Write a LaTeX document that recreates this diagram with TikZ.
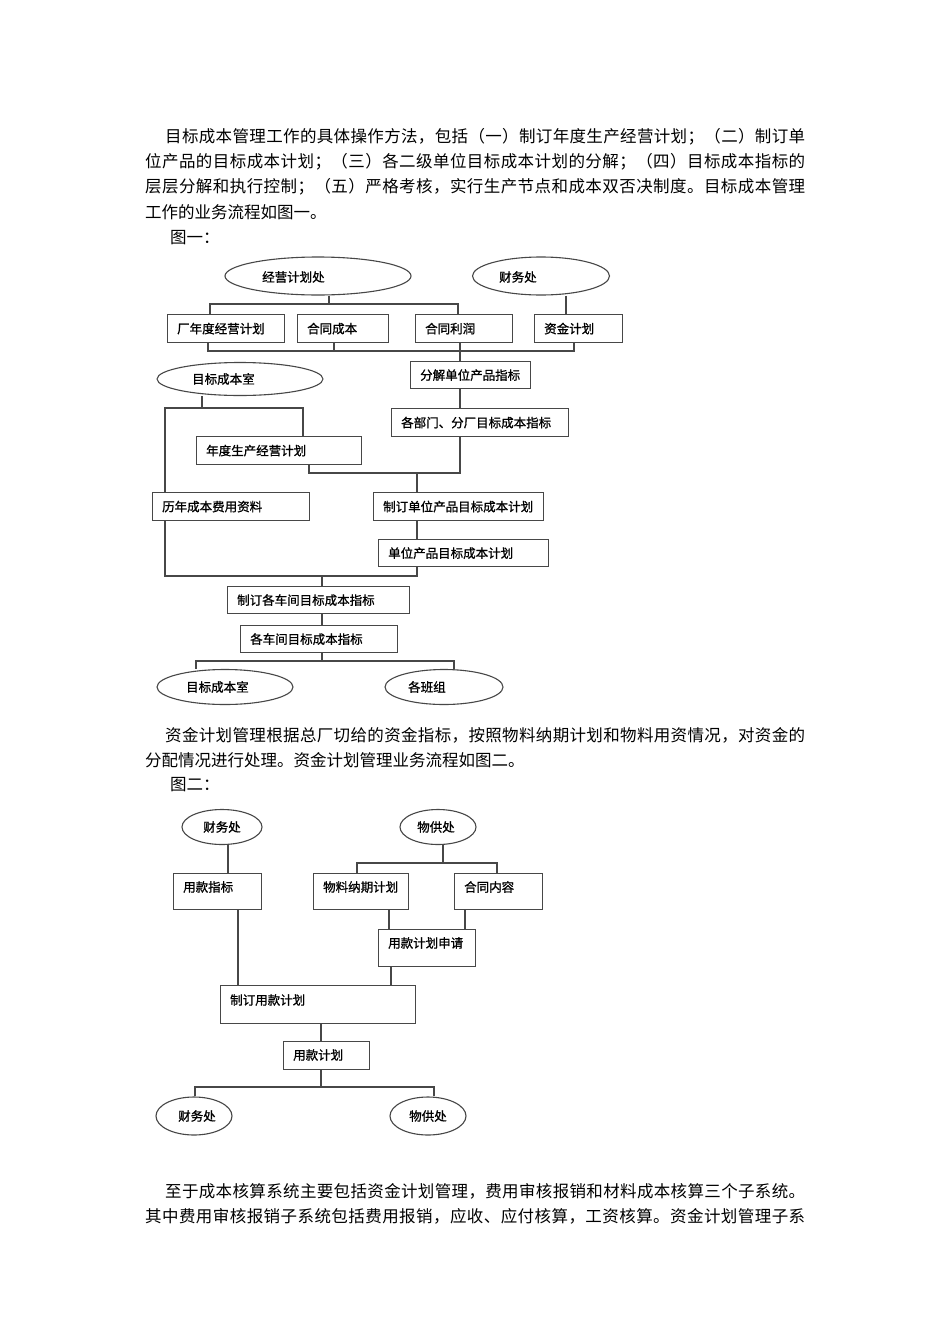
\documentclass[tikz,border=0pt]{standalone}
\usepackage{fontspec}
\setmainfont{Noto Sans CJK SC}
\newfontfamily\dgfont[FakeBold=1]{Noto Sans CJK SC}
\usetikzlibrary{shapes.geometric}
\def\jline#1{\jfirst#1\relax}
\def\jfirst#1{#1\jrest}
\def\jrest#1{\ifx#1\relax\else\hfil#1\expandafter\jrest\fi}
\newcommand\bxc[6]{%
  \node[bx, anchor=north west, minimum width={#4-#2}, minimum height={#5-#3}] (#1) at (#2,#3) {};
  \node[lbl] (#1t) at ([xshift=10pt]#1.west) {#6};}
\newcommand\bxt[7]{%
  \node[bx, anchor=north west, minimum width={#4-#2}, minimum height={#5-#3}] (#1) at (#2,#3) {};
  \node[lbl] (#1t) at (#2+10,#6) {#7};}
\begin{document}
\begin{tikzpicture}[x=1pt,y=-1pt,
  ln/.style={draw=black!72, line width=1.2pt},
  bx/.style={draw=black!72, line width=1.2pt, rectangle, inner sep=0pt},
  ell/.style={draw=black!72, line width=1.1pt, ellipse, inner sep=0pt},
  lbl/.style={anchor=west, inner sep=0pt, font=\dgfont\fontsize{12.5}{14}\selectfont},
  elbl/.style={inner sep=0pt, font=\dgfont\fontsize{12.5}{14}\selectfont},
  para/.style={anchor=west, inner sep=0pt, font=\fontsize{16.5}{20}\selectfont}]
\fill[white] (0,0) rectangle (950,1344);
\useasboundingbox (0,0) rectangle (950,1344);

% ---------- paragraph 1 ----------
\node[para] (p1a) at (165,137) {\makebox[640pt][s]{\jline{目标成本管理工作的具体操作方法，包括（一）制订年度生产经营计划；（二）制订单}}};
\node[para] (p1b) at (145,162) {\makebox[660pt][s]{\jline{位产品的目标成本计划；（三）各二级单位目标成本计划的分解；（四）目标成本指标的}}};
\node[para] (p1c) at (145,187) {\makebox[660pt][s]{\jline{层层分解和执行控制；（五）严格考核，实行生产节点和成本双否决制度。目标成本管理}}};
\node[para] (p1d) at (145,212) {工作的业务流程如图一。};
\node[para] (f1) at (170,238) {图一：};

% ---------- figure 1 ----------
\node[ell, minimum width=186pt, minimum height=38pt] (jy) at (318,276) {};
\node[lbl] (jyt) at (262,277) {经营计划处};
\node[ell, minimum width=137pt, minimum height=38pt] (cw) at (541,276) {};
\node[lbl] (cwt) at (499,277) {财务处};

\bxc{b1}{167}{314}{284}{342}{厂年度经营计划}
\bxc{b2}{297}{314}{388}{342}{合同成本}
\bxc{b3}{415}{314}{512}{342}{合同利润}
\bxc{b4}{534}{314}{622}{342}{资金计划}
\bxc{b5}{410}{361}{530}{388}{分解单位产品指标}
\node[ell, minimum width=166pt, minimum height=33pt] (mb1) at (240,379) {};
\node[lbl] (mb1t) at (192,379) {目标成本室};
\bxc{b6}{391}{408}{568}{436}{各部门、分厂目标成本指标}
\bxc{b7}{196}{436}{361}{464}{年度生产经营计划}
\bxc{b8}{152}{492}{309}{520}{历年成本费用资料}
\bxc{b9}{373}{492}{543}{520}{制订单位产品目标成本计划}
\bxc{b10}{378}{539}{548}{566}{单位产品目标成本计划}
\bxc{b11}{227}{586}{409}{613}{制订各车间目标成本指标}
\bxc{b12}{240}{625}{397}{652}{各车间目标成本指标}
\node[ell, minimum width=136pt, minimum height=35pt] (mb2) at (225,687) {};
\node[lbl] (mb2t) at (186,687) {目标成本室};
\node[ell, minimum width=118pt, minimum height=35pt] (bz) at (444,687) {};
\node[lbl] (bzt) at (408,687) {各班组};

\coordinate (t1) at (329,304);
\draw[ln] (329,0 |- jy.south) -- (t1);
\draw[ln] (210,0 |- b1.north) -- (210,304) -- (458,304) -- (458,0 |- b3.north);
\draw[ln] (566,0 |- cw.south) -- (566,0 |- b4.north);
\draw[ln] (208,0 |- b1.south) -- (208,351) -- (574,351) -- (574,0 |- b4.south);
\draw[ln] (334,0 |- b2.south) -- (334,351);
\draw[ln] (460,0 |- b3.south) -- (460,0 |- b5.north);
\draw[ln] (460,0 |- b5.south) -- (460,0 |- b6.north);
\draw[ln] (202,0 |- mb1.south) -- (202,408);
\draw[ln] (165,0 |- b8.north) -- (165,408) -- (303,408) -- (303,0 |- b7.north);
\draw[ln] (460,0 |- b6.south) -- (460,473) -- (309,473) -- (309,0 |- b7.south);
\draw[ln] (417,473) -- (417,0 |- b9.north);
\draw[ln] (417,0 |- b9.south) -- (417,0 |- b10.north);
\draw[ln] (165,0 |- b8.south) -- (165,576) -- (417,576) -- (417,0 |- b10.south);
\draw[ln] (322,576) -- (322,0 |- b11.north);
\draw[ln] (322,0 |- b11.south) -- (322,0 |- b12.north);
\draw[ln] (322,0 |- b12.south) -- (322,661);
\draw[ln] (196,0 |- mb2.north) -- (196,661) -- (454,661) -- (454,0 |- bz.north);

% ---------- paragraph 2 ----------
\node[para] (p2a) at (165,735) {\makebox[640pt][s]{\jline{资金计划管理根据总厂切给的资金指标，按照物料纳期计划和物料用资情况，对资金的}}};
\node[para] (p2b) at (145,760) {分配情况进行处理。资金计划管理业务流程如图二。};
\node[para] (f2) at (170,785) {图二：};

% ---------- figure 2 ----------
\node[ell, minimum width=80pt, minimum height=35pt] (e21) at (222,827) {};
\node[elbl] (e21t) at (222,827) {财务处};
\node[ell, minimum width=76pt, minimum height=35pt] (e22) at (438,827) {};
\node[elbl] (e22t) at (436,827) {物供处};
\bxt{c1}{173}{873}{261}{909}{887}{用款指标}
\bxt{c2}{313}{873}{408}{909}{887}{物料纳期计划}
\bxt{c3}{454}{873}{542}{909}{887}{合同内容}
\bxt{c4}{378}{929}{475}{966}{943}{用款计划申请}
\bxt{c5}{220}{985}{415}{1023}{1000}{制订用款计划}
\bxt{c6}{283}{1041}{369}{1069}{1055}{用款计划}
\node[ell, minimum width=76pt, minimum height=38pt] (e23) at (194,1116) {};
\node[elbl] (e23t) at (197,1116) {财务处};
\node[ell, minimum width=76pt, minimum height=38pt] (e24) at (428,1116) {};
\node[elbl] (e24t) at (428,1116) {物供处};

\draw[ln] (228,0 |- e21.south) -- (228,0 |- c1.north);
\draw[ln] (443,0 |- e22.south) -- (443,863);
\draw[ln] (357,0 |- c2.north) -- (357,863) -- (497,863) -- (497,0 |- c3.north);
\draw[ln] (238,0 |- c1.south) -- (238,0 |- c5.north);
\draw[ln] (389,0 |- c2.south) -- (389,0 |- c4.north);
\draw[ln] (465,0 |- c3.south) -- (465,0 |- c4.north);
\draw[ln] (391,0 |- c4.south) -- (391,0 |- c5.north);
\draw[ln] (321,0 |- c5.south) -- (321,0 |- c6.north);
\draw[ln] (321,0 |- c6.south) -- (321,1087);
\draw[ln] (195,0 |- e23.north) -- (195,1087) -- (434,1087) -- (434,0 |- e24.north);

% ---------- paragraph 3 ----------
\node[para] (p3a) at (165,1191) {\makebox[640pt][s]{\jline{至于成本核算系统主要包括资金计划管理，费用审核报销和材料成本核算三个子系统。}}};
\node[para] (p3b) at (145,1216) {\makebox[660pt][s]{\jline{其中费用审核报销子系统包括费用报销，应收、应付核算，工资核算。资金计划管理子系}}};
\end{tikzpicture}
\end{document}
